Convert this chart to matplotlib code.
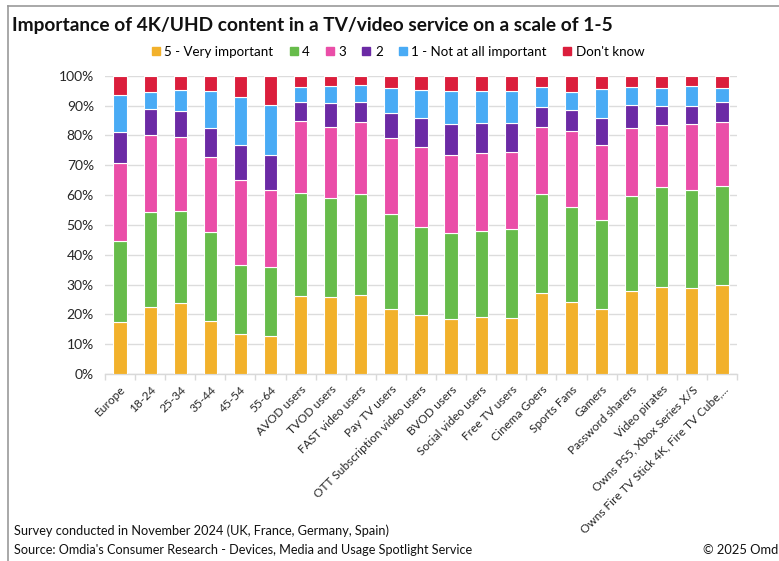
#!/usr/bin/env python3
"""Stacked 100% bars: importance of 4K/UHD content (Omdia survey)."""
import matplotlib

matplotlib.use("Agg")
import matplotlib.pyplot as plt
import numpy as np
from matplotlib.lines import Line2D

plt.rcParams["font.family"] = ["Lato", "DejaVu Sans"]

categories = [
    "Europe", "18-24", "25-34", "35-44", "45-54", "55-64",
    "AVOD users", "TVOD users", "FAST video users", "Pay TV users",
    "OTT Subscription video users", "BVOD users", "Social video users",
    "Free TV users", "Cinema Goers", "Sports Fans", "Gamers",
    "Password sharers", "Video pirates", "Owns PS5, Xbox Series X/S",
    "Owns Fire TV Stick 4K, Fire TV Cube,...",
]
series_names = ["5 - Very important", "4", "3", "2", "1 - Not at all important", "Don't know"]

very_important = [17.5, 22.3, 23.9, 17.9, 13.4, 12.7, 26.3, 25.9, 26.4, 21.7, 19.8,
                  18.4, 19.2, 18.9, 27.0, 24.0, 21.7, 27.8, 29.3, 28.9, 29.8]
four = [27.2, 31.9, 30.7, 29.6, 23.1, 23.1, 34.3, 33.0, 33.8, 31.8, 29.6,
        29.0, 28.6, 29.8, 33.2, 32.1, 29.9, 31.9, 33.5, 32.8, 33.2]
three = [26.2, 25.9, 25.0, 25.3, 28.5, 25.9, 24.2, 24.0, 24.3, 25.5, 26.8,
         26.0, 26.2, 25.7, 22.7, 25.4, 25.2, 22.8, 20.6, 22.1, 21.6]
two = [10.3, 8.6, 8.6, 9.8, 11.8, 11.7, 6.3, 7.8, 6.8, 8.6, 9.7,
       10.4, 10.2, 9.7, 6.7, 7.0, 9.0, 7.6, 6.5, 6.1, 6.5]
not_important = [12.3, 5.9, 7.0, 12.3, 16.2, 16.8, 5.2, 5.8, 5.6, 8.2, 9.3,
                 11.1, 10.8, 10.9, 6.5, 5.9, 9.8, 6.2, 6.0, 6.7, 4.9]
dont_know = [6.5, 5.4, 4.8, 5.1, 7.0, 9.8, 3.7, 3.5, 3.1, 4.2, 4.8,
             5.1, 5.0, 5.0, 3.9, 5.6, 4.4, 3.7, 4.1, 3.4, 4.0]

colors = ["#F2B12B", "#67BC4B", "#EA4EA8", "#6B2AA5", "#49ABF5", "#DB1E3C"]

fig = plt.figure(figsize=(7.79, 5.61), dpi=100)
ax = fig.add_axes([105 / 779, 1 - 374 / 561, 632 / 779, (374 - 75.7) / 561])

x = np.arange(len(categories))
bottom = np.zeros(len(categories))
for name, vals, col in zip(series_names,
                           [very_important, four, three, two, not_important, dont_know],
                           colors):
    v = np.asarray(vals, dtype=float)
    ax.bar(x, v, width=0.44, bottom=bottom, color=col, edgecolor="white",
           linewidth=0.8, label=name, zorder=3)
    bottom += v

ax.set_xlim(-0.5, len(categories) - 0.5)
ax.set_ylim(0, 100)
ax.set_yticks(np.arange(0, 101, 10))
ax.set_yticklabels([f"{t}%" for t in range(0, 101, 10)], fontsize=10, color="#262626")
ax.yaxis.grid(True, color="#dcdcdc", linewidth=1.0, zorder=0)
ax.set_axisbelow(True)
ax.tick_params(axis="y", length=0, pad=8)

ax.set_xticks(x)
ax.set_xticklabels(categories, rotation=45, ha="right", rotation_mode="anchor",
                   fontsize=8.6, color="#262626")
ax.set_xticks(np.arange(-0.5, len(categories), 1), minor=True)
ax.tick_params(axis="x", which="major", length=0, pad=7)
ax.tick_params(axis="x", which="minor", length=4, color="#d9d9d9", width=1)

for s in ["top", "right", "left"]:
    ax.spines[s].set_visible(False)
ax.spines["bottom"].set_color("#d9d9d9")
ax.spines["bottom"].set_linewidth(1)

fig.text(12 / 779, 1 - 25 / 561, "Importance of 4K/UHD content in a TV/video service on a scale of 1-5",
         fontsize=13.8, fontweight="bold", va="center", ha="left", color="#111111")

handles = [Line2D([], [], marker="s", linestyle="none", markersize=5.5,
                  markerfacecolor=c, markeredgecolor=c) for c in colors]
fig.legend(handles, series_names, loc="center", bbox_to_anchor=(398 / 779, 1 - 52 / 561),
           ncol=6, frameon=False, fontsize=9.6, handlelength=0.6, handletextpad=0.35,
           columnspacing=1.2, borderaxespad=0)

fig.text(14 / 779, 1 - 531 / 561, "Survey conducted in November 2024 (UK, France, Germany, Spain)",
         fontsize=9.2, va="center", ha="left", color="#111111")
fig.text(14 / 779, 1 - 550 / 561,
         "Source: Omdia's Consumer Research - Devices, Media and Usage Spotlight Service",
         fontsize=9.1, va="center", ha="left", color="#111111")
fig.text(703 / 779, 1 - 550 / 561, "\u00a9 2025 Omdia", fontsize=9.3, va="center",
         ha="left", color="#111111")

# frame around the graphic (only left and top edges are visible)
fig.add_artist(Line2D([8 / 779, 8 / 779], [0, 1 - 6 / 561], transform=fig.transFigure,
                      color="#999999", linewidth=1.2))
fig.add_artist(Line2D([8 / 779, 1], [1 - 6 / 561, 1 - 6 / 561], transform=fig.transFigure,
                      color="#999999", linewidth=1.2))

fig.savefig("out.png", dpi=100)
